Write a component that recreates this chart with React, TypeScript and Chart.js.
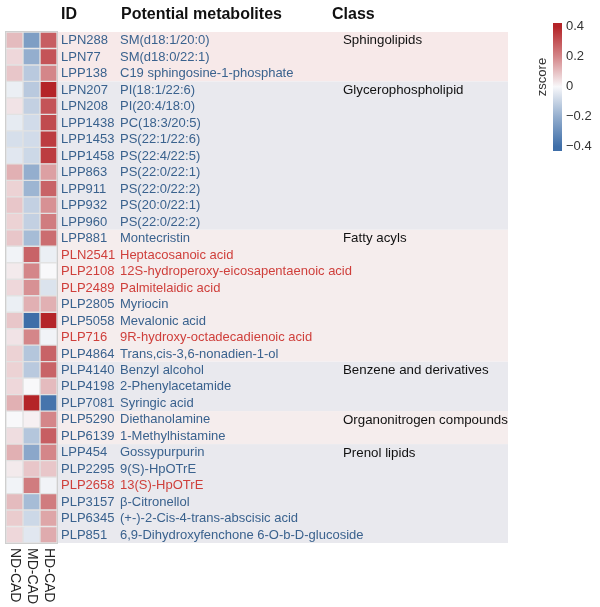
import React, { useEffect, useRef } from "react";
import { Chart, registerables } from "chart.js";

Chart.register(...registerables);

const columns = ["ND-CAD", "MD-CAD", "HD-CAD"];

const ids = [
  "LPN288", "LPN77", "LPP138", "LPN207", "LPN208", "LPP1438", "LPP1453", "LPP1458",
  "LPP863", "LPP911", "LPP932", "LPP960", "LPP881", "PLN2541", "PLP2108", "PLP2489",
  "PLP2805", "PLP5058", "PLP716", "PLP4864", "PLP4140", "PLP4198", "PLP7081", "PLP5290",
  "PLP6139", "LPP454", "PLP2295", "PLP2658", "PLP3157", "PLP6345", "PLP851",
];

const names = [
  "SM(d18:1/20:0)", "SM(d18:0/22:1)", "C19 sphingosine-1-phosphate", "PI(18:1/22:6)",
  "PI(20:4/18:0)", "PC(18:3/20:5)", "PS(22:1/22:6)", "PS(22:4/22:5)", "PS(22:0/22:1)",
  "PS(22:0/22:2)", "PS(20:0/22:1)", "PS(22:0/22:2)", "Montecristin", "Heptacosanoic acid",
  "12S-hydroperoxy-eicosapentaenoic acid", "Palmitelaidic acid", "Myriocin", "Mevalonic acid",
  "9R-hydroxy-octadecadienoic acid", "Trans,cis-3,6-nonadien-1-ol", "Benzyl alcohol",
  "2-Phenylacetamide", "Syringic acid", "Diethanolamine", "1-Methylhistamine", "Gossypurpurin",
  "9(S)-HpOTrE", "13(S)-HpOTrE", "β-Citronellol", "(+-)-2-Cis-4-trans-abscisic acid",
  "6,9-Dihydroxyfenchone 6-O-b-D-glucoside",
];

const redIds = ["PLN2541", "PLP2108", "PLP2489", "PLP716", "PLP2658"];

const ndValues = [
  0.10, 0.05, 0.08, -0.02, 0.03, -0.03, -0.06, -0.04, 0.12, 0.06, 0.08, 0.06, 0.08, -0.01, 0.02, 0.05,
  -0.02, 0.08, 0.03, 0.06, 0.06, 0.05, 0.12, 0.0, 0.04, 0.12, 0.02, -0.01, 0.10, 0.07, 0.05,
];
const mdValues = [
  -0.25, -0.2, -0.12, -0.12, -0.1, -0.07, -0.07, -0.08, -0.2, -0.18, -0.1, -0.1, -0.16, 0.27, 0.2, 0.18,
  0.12, -0.4, 0.2, -0.13, -0.12, 0.0, 0.4, 0.01, -0.13, -0.22, 0.08, 0.22, -0.16, -0.08, -0.04,
];
const hdValues = [
  0.28, 0.3, 0.2, 0.4, 0.3, 0.32, 0.35, 0.35, 0.15, 0.27, 0.18, 0.22, 0.25, -0.02, 0.0, -0.05,
  0.12, 0.4, -0.01, 0.27, 0.27, 0.1, -0.38, 0.2, 0.28, 0.2, 0.08, -0.01, 0.22, 0.14, 0.13,
];

const classNames = [
  "Sphingolipids", "Glycerophospholipid", "Fatty acyls",
  "Benzene and derivatives", "Organonitrogen compounds", "Prenol lipids",
];
const classSizes = [3, 9, 8, 3, 2, 6];

const colorbarTicks = [0.4, 0.2, 0, -0.2, -0.4];

const LOW = [62, 110, 168];
const MID = [248, 248, 250];
const HIGH = [180, 36, 40];
const LIMIT = 0.4;

function zColor(v: number): string {
  const t = Math.max(-1, Math.min(1, v / LIMIT));
  const end = t < 0 ? LOW : HIGH;
  const f = Math.pow(Math.abs(t), 0.9);
  const c = MID.map((m, i) => Math.round(m + (end[i] - m) * f));
  return `rgb(${c[0]},${c[1]},${c[2]})`;
}

const FONT = '"Liberation Sans", Arial, sans-serif';

const overlayPlugin = {
  id: "overlay",
  beforeDatasetsDraw(chart: any) {
    const ctx = chart.ctx;
    const y = chart.scales.y;
    const ca = chart.chartArea;
    const h = y.getPixelForValue(1) - y.getPixelForValue(0);
    let start = 0;
    ctx.save();
    classSizes.forEach((n, gi) => {
      const top = y.getPixelForValue(start) - h / 2;
      const bottom = y.getPixelForValue(start + n - 1) + h / 2;
      ctx.fillStyle = gi % 2 === 0 ? (gi === 0 ? "#f7e9e9" : "#f5eded") : "#e9e9ee";
      ctx.fillRect(ca.right, top, 508 - ca.right, bottom - top);
      start += n;
    });
    ctx.restore();
  },
  afterDraw(chart: any) {
    const ctx = chart.ctx;
    const x = chart.scales.x;
    const y = chart.scales.y;
    const ca = chart.chartArea;
    ctx.save();
    ctx.strokeStyle = "#cfcfcf";
    ctx.lineWidth = 1;
    ctx.strokeRect(ca.left - 0.5, ca.top - 0.5, ca.right - ca.left + 1, ca.bottom - ca.top + 1);

    ctx.fillStyle = "#111";
    ctx.font = `bold 16px ${FONT}`;
    ctx.textBaseline = "middle";
    ctx.textAlign = "left";
    ctx.fillText("ID", 61, 15);
    ctx.fillText("Potential metabolites", 121, 15);
    ctx.fillText("Class", 332, 15);

    ctx.font = `13px ${FONT}`;
    ids.forEach((id, i) => {
      const py = y.getPixelForValue(i) + 0.5;
      ctx.fillStyle = redIds.includes(id) ? "#cf3f3b" : "#3a628e";
      ctx.fillText(id, 61, py);
      ctx.fillText(names[i], 120, py);
    });

    ctx.font = `13.3px ${FONT}`;
    ctx.fillStyle = "#111";
    let start = 0;
    classSizes.forEach((n, gi) => {
      ctx.fillText(classNames[gi], 343, y.getPixelForValue(start) + 0.5);
      start += n;
    });

    ctx.font = `14px ${FONT}`;
    ctx.fillStyle = "#222";
    columns.forEach((c, i) => {
      const px = x.getPixelForValue(i + 0.5);
      ctx.save();
      ctx.translate(px, ca.bottom + 5);
      ctx.rotate(Math.PI / 2);
      ctx.textAlign = "left";
      ctx.textBaseline = "middle";
      ctx.fillText(c, 0, 0);
      ctx.restore();
    });

    const cbLeft = 553, cbRight = 562, cbTop = 23, cbBottom = 151;
    const cbMid = 86.7, cbScale = 150;
    const grad = ctx.createLinearGradient(0, cbMid - LIMIT * cbScale, 0, cbMid + LIMIT * cbScale);
    grad.addColorStop(0, zColor(LIMIT));
    grad.addColorStop(0.25, zColor(LIMIT / 2));
    grad.addColorStop(0.5, zColor(0));
    grad.addColorStop(0.75, zColor(-LIMIT / 2));
    grad.addColorStop(1, zColor(-LIMIT));
    ctx.fillStyle = grad;
    ctx.fillRect(cbLeft, cbTop, cbRight - cbLeft, cbBottom - cbTop);
    ctx.font = `13px ${FONT}`;
    ctx.fillStyle = "#333";
    ctx.textAlign = "left";
    colorbarTicks.forEach((t) => {
      const label = t < 0 ? "\u2212" + Math.abs(t).toString() : t.toString();
      ctx.fillText(label, 566, cbMid - t * cbScale);
    });
    ctx.save();
    ctx.translate(542, 77);
    ctx.rotate(-Math.PI / 2);
    ctx.textAlign = "center";
    ctx.fillText("zscore", 0, 0);
    ctx.restore();
    ctx.restore();
  },
};

export default function App() {
  const ref = useRef<HTMLCanvasElement | null>(null);
  useEffect(() => {
    if (!ref.current) return;
    const valueSets = [ndValues, mdValues, hdValues];
    const chart = new Chart(ref.current, {
      type: "bar",
      data: {
        labels: ids,
        datasets: columns.map((c, ci) => ({
          label: c,
          data: valueSets[ci].map(() => 1),
          backgroundColor: valueSets[ci].map((v) => zColor(v)),
          borderColor: "#e2e2e2",
          borderWidth: 1,
          borderSkipped: false,
          barPercentage: 1,
          categoryPercentage: 1,
        })),
      },
      options: {
        indexAxis: "y",
        responsive: false,
        animation: false,
        layout: { padding: { left: 6, right: 543, top: 32, bottom: 64 } },
        scales: {
          x: { display: false, stacked: true, min: 0, max: 3 },
          y: { display: false, stacked: true },
        },
        plugins: { legend: { display: false }, tooltip: { enabled: false } },
      },
      plugins: [overlayPlugin],
    } as any);
    return () => chart.destroy();
  }, []);
  return (
    <div style={{ position: "absolute", left: 0, top: 0, width: 600, height: 607, background: "#fff" }}>
      <canvas ref={ref} width={600} height={607} />
    </div>
  );
}
